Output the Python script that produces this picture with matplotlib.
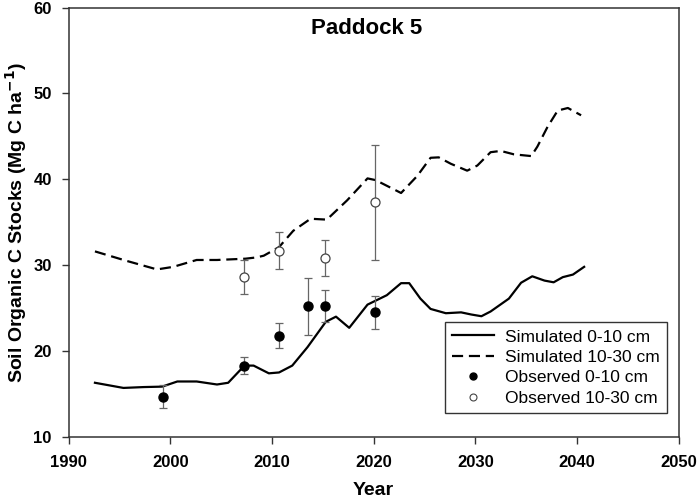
import matplotlib
matplotlib.use("Agg")
import matplotlib.pyplot as plt
from matplotlib.lines import Line2D

plt.rcParams['font.family'] = ['Liberation Sans', 'DejaVu Sans']

# Simulated 0-10 cm
sim_shallow_year = [1992.6, 1995.4, 1997.4, 1999.2, 2000.7, 2002.6, 2004.6, 2005.7, 2007.3, 2008.2,
                    2009.7, 2010.7, 2012.0, 2013.5, 2015.3, 2016.3, 2017.6, 2019.4, 2021.3, 2022.7,
                    2023.5, 2024.6, 2025.6, 2027.1, 2028.6, 2029.6, 2030.6, 2031.5, 2033.3, 2034.5,
                    2035.6, 2036.8, 2037.7, 2038.6, 2039.6, 2040.7]
sim_shallow_val = [16.3, 15.7, 15.8, 15.85, 16.45, 16.45, 16.1, 16.3, 18.3, 18.3,
                   17.4, 17.5, 18.3, 20.45, 23.4, 24.0, 22.7, 25.4, 26.5, 27.9,
                   27.9, 26.1, 24.9, 24.4, 24.5, 24.25, 24.05, 24.6, 26.1, 27.95,
                   28.7, 28.2, 28.0, 28.6, 28.9, 29.8]

# Simulated 10-30 cm
sim_deep_year = [1992.6, 1995.7, 1998.7, 2000.3, 2002.6, 2004.6, 2007.4, 2008.5, 2009.2, 2010.7,
                 2012.1, 2013.8, 2015.4, 2017.4, 2019.4, 2020.2, 2022.7, 2024.3, 2025.6, 2026.4,
                 2027.6, 2029.2, 2030.2, 2031.5, 2032.5, 2033.8, 2035.5, 2036.1, 2037.1, 2038.1,
                 2039.1, 2040.4]
sim_deep_val = [31.6, 30.5, 29.5, 29.8, 30.6, 30.6, 30.75, 30.9, 31.1, 32.1,
                34.0, 35.4, 35.3, 37.55, 40.1, 39.9, 38.4, 40.4, 42.5, 42.55,
                41.8, 41.0, 41.6, 43.15, 43.3, 42.9, 42.7, 43.8, 46.1, 48.0,
                48.3, 47.45]

# Observed 0-10 cm
obs_shallow_year = [1999.3, 2007.3, 2010.7, 2013.5, 2015.2, 2020.1]
obs_shallow_val = [14.7, 18.3, 21.8, 25.2, 25.2, 24.5]
obs_shallow_err = [1.35, 1.0, 1.45, 3.3, 1.85, 1.9]

# Observed 10-30 cm
obs_deep_year = [2007.3, 2010.7, 2015.2, 2020.1]
obs_deep_val = [28.6, 31.7, 30.8, 37.3]
obs_deep_err = [1.95, 2.15, 2.1, 6.7]

x_ticks = [1990, 2000, 2010, 2020, 2030, 2040, 2050]
y_ticks = [10, 20, 30, 40, 50, 60]

fig = plt.figure(figsize=(6.99, 5.01), dpi=100)
ax = fig.add_axes([0.098, 0.128, 0.873, 0.857])

spine_col = '#333333'
err_col = '#666666'

ax.plot(sim_shallow_year, sim_shallow_val, color='black', lw=1.6, solid_joinstyle='round')
ax.plot(sim_deep_year, sim_deep_val, color='black', lw=1.6, linestyle=(0, (5, 2.6)))

ax.errorbar(obs_shallow_year, obs_shallow_val, yerr=obs_shallow_err, fmt='o', color='black',
            ms=6.5, ecolor=err_col, elinewidth=0.9, capsize=3, capthick=0.9, zorder=3)
ax.errorbar(obs_deep_year, obs_deep_val, yerr=obs_deep_err, fmt='o', mfc='white', mec='#444444',
            mew=0.9, ms=6.5, ecolor=err_col, elinewidth=0.9, capsize=3, capthick=0.9, zorder=3)

ax.set_xlim(1990, 2050)
ax.set_ylim(10, 60)
ax.set_xticks(x_ticks)
ax.set_yticks(y_ticks)
ax.tick_params(direction='out', length=5, width=1, color=spine_col, labelsize=12)
ax.tick_params(axis='x', pad=8)
ax.tick_params(axis='y', pad=7)
for lbl in ax.get_xticklabels() + ax.get_yticklabels():
    lbl.set_fontweight('bold')
for s in ax.spines.values():
    s.set_color(spine_col)
    s.set_linewidth(1.1)

ax.set_xlabel('Year', fontsize=14, fontweight='bold', labelpad=9)
ax.set_ylabel('Soil Organic C Stocks (Mg C ha$^{\\mathbf{-1}}$)', fontsize=14, fontweight='bold', labelpad=3)
ax.text(0.488, 0.952, 'Paddock 5', transform=ax.transAxes, ha='center', va='center',
        fontsize=16, fontweight='bold')

handles = [
    Line2D([], [], color='black', lw=1.6),
    Line2D([], [], color='black', lw=1.6, linestyle=(0, (5, 2.6))),
    Line2D([], [], color='black', marker='o', ls='none', ms=5),
    Line2D([], [], color='#444444', marker='o', mfc='white', mew=0.8, ls='none', ms=5),
]
labels = ['Simulated 0-10 cm', 'Simulated 10-30 cm', 'Observed 0-10 cm', 'Observed 10-30 cm']
leg = ax.legend(handles, labels, loc='lower right', bbox_to_anchor=(0.981, 0.0545), fontsize=12.5,
                frameon=True, fancybox=False, edgecolor='black', handlelength=2.4,
                handletextpad=0.6, borderpad=0.45, labelspacing=0.3, borderaxespad=0)
leg.get_frame().set_linewidth(1.0)

fig.savefig('out.png', dpi=100)
